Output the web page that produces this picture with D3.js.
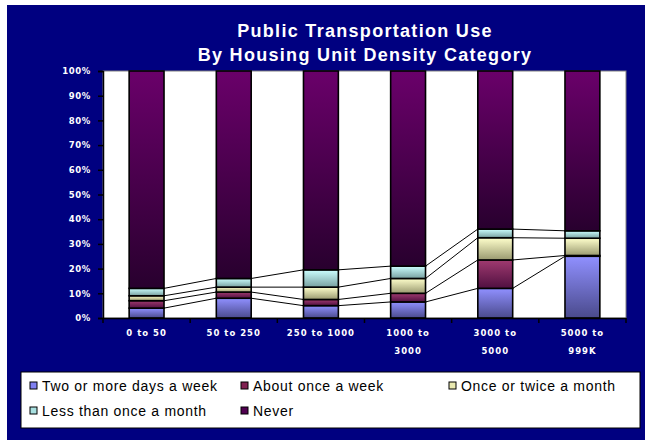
<!DOCTYPE html>
<html>
<head>
<meta charset="utf-8">
<script src="https://cdn.jsdelivr.net/npm/d3@7"></script>
<style>
  html, body { margin: 0; padding: 0; background: #ffffff; }
  svg { display: block; }
</style>
</head>
<body>
<svg id="chart" width="645" height="440"></svg>
<script>
// Housing unit density categories (x axis)
const categories = ["0 to 50", "50 to 250", "250 to 1000", "1000 to 3000", "3000 to 5000", "5000 to 999K"];
// Category labels as drawn, split into lines
const categoryLines = [["0 to 50"], ["50 to 250"], ["250 to 1000"], ["1000 to", "3000"], ["3000 to", "5000"], ["5000 to", "999K"]];

// Share of respondents (%) per frequency of public transportation use
const seriesNames = ["Two or more days a week", "About once a week", "Once or twice a month", "Less than once a month", "Never"];
const twoOrMore   = [4,   8,   5,   6.5, 12,   25];
const onceAWeek   = [3,   2.5, 2.5, 3.5, 11.5, 0.3];
const onceTwice   = [2,   2,   5,   6,   9,    7];
const lessMonthly = [3,   3.5, 7,   5,   3.5,  3];
const never       = [88,  84,  80.5, 79, 64,   64.7];

// Y axis tick values
const yTicks = [0, 10, 20, 30, 40, 50, 60, 70, 80, 90, 100];

const seriesValues = [twoOrMore, onceAWeek, onceTwice, lessMonthly, never];
// Gradient stops (top, bottom) for each series
const colorTop    = ["#9090ff", "#a03a70", "#ffffcc", "#ccffff", "#6a006a"];
const colorBottom = ["#4a4a8c", "#501040", "#9a9a70", "#78a0a0", "#28002e"];
const legendColor = ["#8080f0", "#802050", "#e8e8b0", "#a8e0e0", "#500050"];

const svg = d3.select("#chart");
const W = 645, H = 440;
const plot = { left: 103, right: 626, top: 71, bottom: 318 };

// Outer navy panel
svg.append("rect").attr("x", 7).attr("y", 5).attr("width", W - 7).attr("height", H - 5).attr("fill", "#000080");

// Gradients
const defs = svg.append("defs");
seriesNames.forEach((s, i) => {
  const g = defs.append("linearGradient").attr("id", "grad" + i)
    .attr("x1", 0).attr("y1", 0).attr("x2", 0).attr("y2", 1);
  g.append("stop").attr("offset", "0%").attr("stop-color", colorTop[i]);
  g.append("stop").attr("offset", "100%").attr("stop-color", colorBottom[i]);
});

// Title
const title = svg.append("text").attr("text-anchor", "middle")
  .attr("font-family", "'Liberation Sans', Arial, sans-serif").attr("font-weight", "bold")
  .attr("font-size", 18).attr("letter-spacing", 1.3).attr("fill", "#ffffff");
title.append("tspan").attr("x", 365).attr("y", 37).text("Public Transportation Use");
title.append("tspan").attr("x", 365).attr("y", 61).text("By Housing Unit Density Category");

// Plot area
svg.append("rect").attr("x", plot.left).attr("y", plot.top)
  .attr("width", plot.right - plot.left).attr("height", plot.bottom - plot.top)
  .attr("fill", "#ffffff").attr("stroke", "#808080").attr("stroke-width", 1);

const x = d3.scaleBand().domain(categories).range([plot.left, plot.right])
  .paddingInner(0.6).paddingOuter(0.3);
const y = d3.scaleLinear().domain([0, 100]).range([plot.bottom, plot.top]);

// Stack data
const rows = categories.map((c, i) => {
  const r = { category: c };
  seriesNames.forEach((s, k) => { r[s] = seriesValues[k][i]; });
  return r;
});
const stacked = d3.stack().keys(seriesNames)(rows);

// Bars
const layers = svg.append("g").selectAll("g").data(stacked).join("g")
  .attr("fill", (d, i) => `url(#grad${i})`);
layers.selectAll("rect").data(d => d).join("rect")
  .attr("x", d => x(d.data.category))
  .attr("y", d => y(d[1]))
  .attr("width", x.bandwidth())
  .attr("height", d => Math.max(0, y(d[0]) - y(d[1])))
  .attr("stroke", "#000000").attr("stroke-width", 1.6);

// Series lines joining the top of each of the lower four series
const lineGroup = svg.append("g").attr("stroke", "#000000").attr("stroke-width", 1).attr("fill", "none");
stacked.slice(0, 4).forEach(layer => {
  for (let i = 0; i < layer.length - 1; i++) {
    lineGroup.append("line")
      .attr("x1", x(categories[i]) + x.bandwidth()).attr("y1", y(layer[i][1]))
      .attr("x2", x(categories[i + 1])).attr("y2", y(layer[i + 1][1]));
  }
});

// Y axis
const yAxis = svg.append("g").attr("transform", `translate(${plot.left},0)`)
  .call(d3.axisLeft(y).tickValues(yTicks).tickFormat(d => d + "%").tickSize(5).tickPadding(7));
yAxis.select(".domain").attr("stroke", "#000000").attr("stroke-width", 1.5);
yAxis.selectAll(".tick line").attr("stroke", "#000000").attr("stroke-width", 1.5);
yAxis.selectAll(".tick text").attr("fill", "#ffffff")
  .attr("font-family", "'DejaVu Sans', sans-serif").attr("font-weight", "bold")
  .attr("font-size", 8.5).attr("letter-spacing", 0.6);

// X axis
const xAxis = svg.append("g").attr("transform", `translate(0,${plot.bottom})`)
  .call(d3.axisBottom(x).tickSize(0).tickFormat(""));
xAxis.select(".domain").attr("stroke", "#000000").attr("stroke-width", 1.5);
// Tick marks at the category boundaries
const step = x.step();
const bounds = d3.range(categories.length + 1).map(i => plot.left + i * step);
svg.append("g").selectAll("line").data(bounds).join("line")
  .attr("x1", d => d).attr("x2", d => d)
  .attr("y1", plot.bottom).attr("y2", plot.bottom + 5)
  .attr("stroke", "#000000").attr("stroke-width", 1.5);
// Category labels
const xl = svg.append("g").selectAll("text").data(categories).join("text")
  .attr("text-anchor", "middle").attr("fill", "#ffffff")
  .attr("font-family", "'DejaVu Sans', sans-serif").attr("font-weight", "bold")
  .attr("font-size", 8.5).attr("letter-spacing", 1);
xl.each(function (c, i) {
  const cx = x(c) + x.bandwidth() / 2;
  categoryLines[i].forEach((t, j) => {
    d3.select(this).append("tspan").attr("x", cx).attr("y", 336 + j * 18).text(t);
  });
});

// Legend
const legend = svg.append("g");
legend.append("rect").attr("x", 21).attr("y", 372).attr("width", 619).attr("height", 56)
  .attr("fill", "#ffffff").attr("stroke", "#000000").attr("stroke-width", 1);
const legendPos = [[30, 386], [241, 386], [449, 386], [30, 411], [241, 411]];
seriesNames.forEach((s, i) => {
  const [lx, ly] = legendPos[i];
  legend.append("rect").attr("x", lx).attr("y", ly - 4).attr("width", 7).attr("height", 7)
    .attr("fill", legendColor[i]).attr("stroke", "#000000").attr("stroke-width", 1);
  legend.append("text").attr("x", lx + 12).attr("y", ly + 5)
    .attr("font-family", "'Liberation Sans', Arial, sans-serif").attr("font-size", 14)
    .attr("letter-spacing", 0.7).attr("fill", "#000000").text(s);
});
</script>
</body>
</html>
